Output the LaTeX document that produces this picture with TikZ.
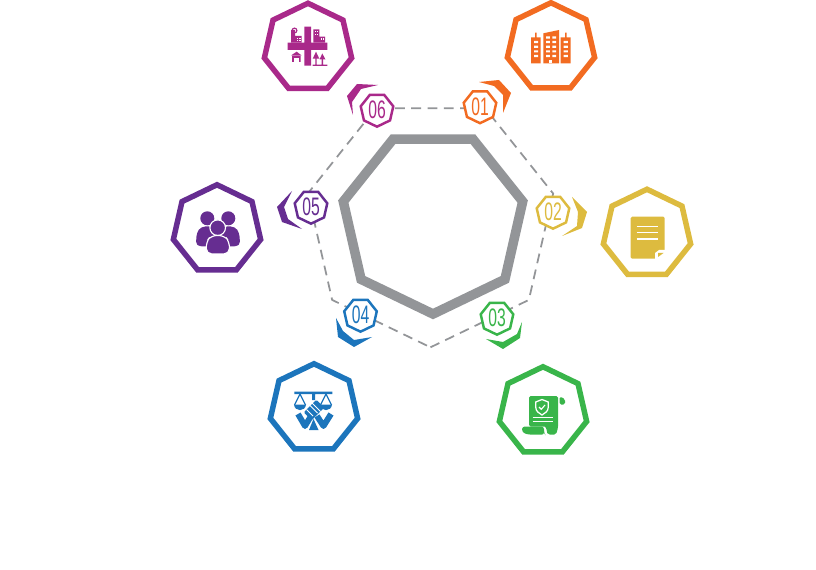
\documentclass[tikz,border=0pt]{standalone}
\usepackage{xcolor}
\usepackage{fontspec}
\usepackage{tikz}
\usetikzlibrary{shapes.geometric}
\newfontfamily\numfont[FakeStretch=0.62]{Liberation Sans}
\definecolor{orangeA}{HTML}{F26B21}
\definecolor{yellowA}{HTML}{DDBB3F}
\definecolor{greenA}{HTML}{39B54A}
\definecolor{blueA}{HTML}{1C75BC}
\definecolor{purpleA}{HTML}{662D91}
\definecolor{magentaA}{HTML}{A9298A}
\definecolor{ringgray}{HTML}{939598}

\begin{document}
\begin{tikzpicture}[
  x=0.025cm,
  y=-0.025cm,
  hept/.style={regular polygon, regular polygon sides=7, outer sep=0pt, inner sep=0pt},
  bighept/.style={hept, draw=#1, line width=3.9pt, minimum size=89.5*0.025cm},
  smallhept/.style={hept, draw=#1, text=#1, fill=white, line width=1.75pt,
    shape border rotate=180, minimum size=33.4*0.025cm,
    font=\numfont\fontsize{18}{18}\selectfont}
]
  \useasboundingbox (0,0) rectangle (816,570);

  % centre rings
  \node[hept, draw=ringgray, line width=6.8pt, shape border rotate=180, minimum size=184*0.025cm] (core) at (433,222) {};
  \node[hept, draw=ringgray, line width=1.25pt, dash pattern=on 7pt off 4.6pt, shape border rotate=180, minimum size=251.6*0.025cm] (ring) at (430.5,221.5) {};

  % chevrons behind the numbers
  \fill[orangeA] (479,82) -- (499,80) -- (511,93) -- (503,113) -- (503,95) -- (494,86) -- cycle;
  \fill[yellowA] (572,197) -- (587,212) -- (582,228) -- (562,236) -- (577,226) -- (578,212) -- cycle;
  \fill[greenA] (522,322) -- (520,338) -- (503,349) -- (486,339) -- (503,342) -- (517,334) -- cycle;
  \fill[blueA] (336,318) -- (338,337) -- (354,347) -- (372,337) -- (354,340) -- (343,331) -- cycle;
  \fill[purpleA] (292,191) -- (277,207) -- (282,222) -- (302,229) -- (288,219) -- (284,207) -- cycle;
  \fill[magentaA] (378,85) -- (357,84) -- (347,96) -- (353,115) -- (352,102) -- (361,89) -- cycle;

  % numbers
  \node[smallhept=orangeA] (n01) at (480,106.5) {01};
  \node[smallhept=yellowA] (n02) at (553,212) {02};
  \node[smallhept=greenA] (n03) at (497,318) {03};
  \node[smallhept=blueA] (n04) at (360.5,315) {04};
  \node[smallhept=purpleA] (n05) at (311,207) {05};
  \node[smallhept=magentaA] (n06) at (377,110) {06};

  % outer frames
  \node[bighept=orangeA] (h01) at (551,47.5) {};
  \node[bighept=yellowA] (h02) at (647,234) {};
  \node[bighept=greenA] (h03) at (543,411.5) {};
  \node[bighept=blueA] (h04) at (314,408.5) {};
  \node[bighept=purpleA] (h05) at (217,229.5) {};
  \node[bighept=magentaA] (h06) at (308,48) {};

  % office blocks
  \fill[orangeA] (531,37.3) rectangle (540.7,63.3) (535,32.7) rectangle (536.6,38)
    (560.7,37.3) rectangle (570.7,63.3) (565,32.7) rectangle (566.6,38)
    (543.3,33.3) -- (559,30) -- (559,63.3) -- (543.3,63.3) -- cycle;
  \foreach \wy in {41,45.7,50.3,55}{
    \fill[white] (534,\wy) rectangle (538,\wy+2.2) (563.5,\wy) rectangle (567.8,\wy+2.2);
  }
  \foreach \wy in {36.5,41,45.7,50.3,55}{
    \fill[white] (546,\wy) rectangle (549.8,\wy+2.2) (552.4,\wy) rectangle (556.2,\wy+2.2);
  }
  \fill[white] (548.5,60) rectangle (552,63.3);

  % document
  \fill[yellowA, rounded corners=1pt] (630.7,216.7) rectangle (664.7,258.7);
  \foreach \ly in {226.7,232.7,239}{
    \draw[white, line width=1.1pt] (636.7,\ly) -- (658.3,\ly);
  }
  \fill[white] (655,259.5) -- (655,253) -- (659,250) -- (665.5,250) -- (665.5,259.5) -- cycle;
  \fill[yellowA] (658,257) -- (658,253) -- (663.5,253) -- cycle;

  % scroll with shield
  \fill[greenA, rounded corners=1.2pt] (529,396) -- (558,396) -- (558,428) -- (556,434.5) -- (548,434.5) -- (546,431) -- (546,426.5) -- (529,426.5) -- cycle;
  \fill[greenA, rounded corners=1.2pt] (559.5,396.5) -- (565,399) -- (565,404.5) -- (559.5,404.5) -- cycle;
  \fill[greenA, rounded corners=2pt] (522,426.5) -- (544,426.5) -- (544,433) -- (545,434.5) -- (527,434.5) -- (522,432) -- cycle;
  \draw[white, line width=0.9pt] (542,399.5) -- (548.2,402) -- (548.2,407.5) .. controls (548.2,411) and (545,413.5) .. (542,415) .. controls (539,413.5) and (535.8,411) .. (535.8,407.5) -- (535.8,402) -- cycle;
  \draw[white, line width=0.8pt] (539,407) -- (541.3,409.3) -- (545,405);
  \draw[white, line width=0.7pt] (532.7,417.7) -- (552.7,417.7) (532.7,421) -- (552.7,421);
  \draw[white, line width=0.7pt] (544.3,427) .. controls (546,428) and (546.5,431) .. (546.5,434);

  % balance and joined hands
  \fill[blueA] (294.3,391.7) rectangle (332.3,394) (312,394) rectangle (315,400);
  \foreach \px in {300,326}{
    \draw[blueA, line width=0.9pt] (\px,394) -- (\px-5.5,405) (\px,394) -- (\px+5.5,405);
    \fill[blueA] (\px-6,404.5) -- (\px+6,404.5) .. controls (\px+5.5,412) and (\px-5.5,412) .. (\px-6,404.5) -- cycle;
  }
  \draw[blueA, line width=4.2pt, line join=round] (298,414) -- (305,426) -- (311,416);
  \draw[blueA, line width=4.2pt, line join=round] (331,414) -- (323.5,426) -- (317,416);
  \fill[blueA] (313.5,419) -- (309,430) -- (318.5,430) -- cycle;
  \fill[blueA, rotate around={45:(314,410)}, rounded corners=1pt] (305,404.5) rectangle (323,415.5);
  \draw[white, line width=0.7pt] (308,403.5) -- (317.5,413) (311,402) -- (320.5,411.5) (306.5,409.5) -- (313,416);

  % group of people
  \fill[purpleA] (207.3,218.3) circle (7) (228.3,218.3) circle (7);
  \fill[purpleA, rounded corners=3pt] (196,246) -- (196.5,233) -- (201,226.5) -- (213,226.5) -- (217,232) -- (217,247) -- cycle;
  \fill[purpleA, rounded corners=3pt] (240,246) -- (239.5,233) -- (235,226.5) -- (223,226.5) -- (219,232) -- (219,247) -- cycle;
  \fill[purpleA, draw=white, line width=0.8pt] (217.7,227.7) circle (7.8);
  \fill[purpleA, draw=white, line width=0.8pt, rounded corners=4pt] (206.2,254) -- (206.2,242) -- (211,235.5) -- (224.5,235.5) -- (229.5,242) -- (229.5,254) -- cycle;

  % town map
  \fill[magentaA] (304.3,26.7) rectangle (311,65.7) (287.7,42.7) rectangle (327.3,50);
  \fill[magentaA] (291,30) rectangle (295,42.7) (295,36) rectangle (301.7,42.7);
  \draw[magentaA, line width=0.8pt] (294.5,30.5) circle (2.4);
  \fill[magentaA] (313.3,29.3) rectangle (319.3,42.7) (319,36.7) rectangle (325,42.7);
  \foreach \wx/\wy in {296.5/38,299.3/38,296.5/40.3,299.3/40.3,314.7/31,317/31,314.7/34,317/34,320.7/38.5,323/38.5}{
    \fill[white] (\wx,\wy) rectangle +(1.2,1.2);
  }
  \fill[magentaA] (291,55.5) -- (296.7,51.7) -- (301.7,55.5) -- cycle (292,56) rectangle (300.5,62);
  \fill[white] (294,58) rectangle (298.5,62);
  \fill[magentaA] (316,51.7) -- (312.7,58.7) -- (319.3,58.7) -- cycle (322.3,53.5) -- (319.5,59.5) -- (325.5,59.5) -- cycle;
  \fill[magentaA] (315.3,58) rectangle (316.7,65) (321.7,59) rectangle (323,65) (312.5,64.7) rectangle (327.3,65.9);
\end{tikzpicture}
\end{document}
